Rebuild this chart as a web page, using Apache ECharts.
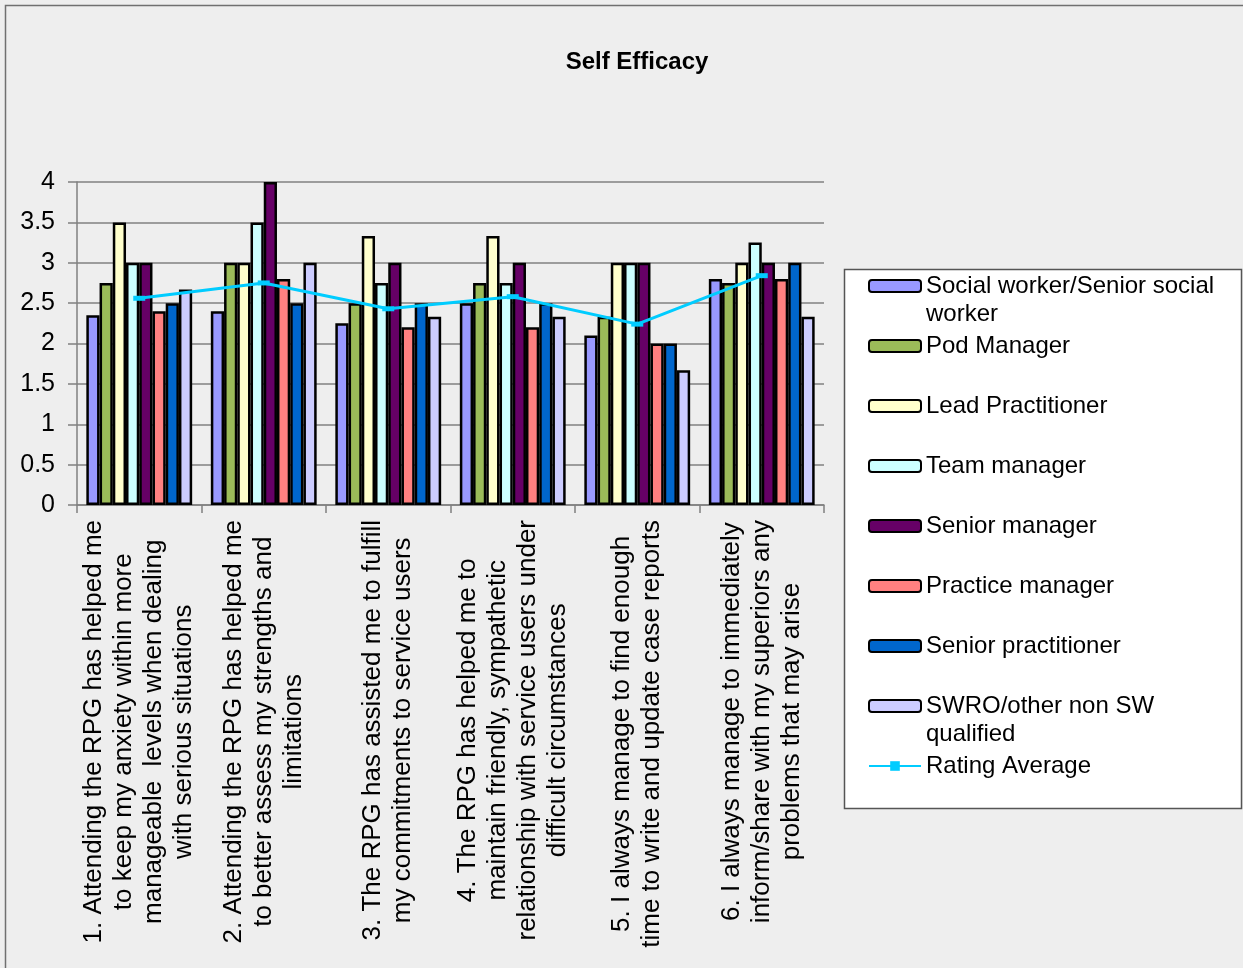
<!DOCTYPE html>
<html>
<head>
<meta charset="utf-8">
<script src="https://cdn.jsdelivr.net/npm/echarts@6.0.0/dist/echarts.min.js"></script>
<style>
  html, body { margin: 0; padding: 0; background: #eeeeee; }
  #chart { width: 1243px; height: 968px; }
</style>
</head>
<body>
<div id="chart"></div>
<script>
// ===== data =====
const categories = [
  '1. Attending the RPG has helped me\nto keep my anxiety within more\nmanageable  levels when dealing\nwith serious situations',
  '2. Attending the RPG has helped me\nto better assess my strengths and\nlimitations',
  '3. The RPG has assisted me to fulfill\nmy commitments to service users',
  '4. The RPG has helped me to\nmaintain friendly, sympathetic\nrelationship with service users under\ndifficult circumstances',
  '5. I always manage to find enough\ntime to write and update case reports',
  '6. I always manage to immediately\ninform/share with my superiors any\nproblems that may arise'
];

const seriesNames = [
  'Social worker/Senior social worker',
  'Pod Manager',
  'Lead Practitioner',
  'Team manager',
  'Senior manager',
  'Practice manager',
  'Senior practitioner',
  'SWRO/other non SW qualified',
  'Rating Average'
];

const socialWorker   = [2.35, 2.4, 2.25, 2.5, 2.1, 2.8];
const podManager     = [2.75, 3, 2.5, 2.75, 2.33, 2.75];
const leadPract      = [3.5, 3, 3.33, 3.33, 3, 3];
const teamManager    = [3, 3.5, 2.75, 2.75, 3, 3.25];
const seniorManager  = [3, 4, 3, 3, 3, 3];
const practiceMgr    = [2.4, 2.8, 2.2, 2.2, 2, 2.8];
const seniorPract    = [2.5, 2.5, 2.5, 2.5, 2, 3];
const swro           = [2.67, 3, 2.33, 2.33, 1.67, 2.33];
const ratingAverage  = [2.56, 2.75, 2.43, 2.58, 2.24, 2.84];

const yTicks = { min: 0, max: 4, interval: 0.5 };

const barColors = ['#9999ff', '#9bbb59', '#ffffcc', '#ccffff', '#660066', '#ff8080', '#0066cc', '#ccccff'];
const barData = [socialWorker, podManager, leadPract, teamManager, seniorManager, practiceMgr, seniorPract, swro];

const FONT = "'Liberation Sans', Arial, sans-serif";

const chart = echarts.init(document.getElementById('chart'));

// legend: one component per entry so the rows keep a fixed pitch
const legendCenters = [286, 346, 406, 466, 526, 586, 646, 706, 766];
const LH = 28;
const legends = seriesNames.map((name, i) => {
  const twoLine = name.length > 25;
  return {
    data: [name],
    orient: 'vertical',
    left: 868,
    top: legendCenters[i] - (twoLine ? LH * 1.5 : LH / 2),
    padding: 0,
    itemWidth: 52,
    itemHeight: 12,
    selectedMode: false,
    formatter: n => {
      if (n === 'Social worker/Senior social worker') return '\nSocial worker/Senior social\nworker';
      if (n === 'SWRO/other non SW qualified') return '\nSWRO/other non SW\nqualified';
      return n;
    },
    textStyle: { fontFamily: FONT, fontSize: 24, color: '#000', lineHeight: LH }
  };
});

const series = barData.map((d, i) => ({
  name: seriesNames[i],
  type: 'bar',
  data: d,
  barGap: '0%',
  barCategoryGap: '15%',
  itemStyle: { color: barColors[i], borderColor: '#000', borderWidth: 2.5 }
}));
series.push({
  name: seriesNames[8],
  type: 'line',
  data: ratingAverage,
  z: 5,
  symbol: 'rect',
  symbolSize: [12, 5],
  itemStyle: { color: '#00ccff' },
  lineStyle: { color: '#00ccff', width: 3 }
});

chart.setOption({
  backgroundColor: '#eeeeee',
  animation: false,
  title: {
    text: 'Self Efficacy',
    left: 632,
    top: 45,
    textAlign: 'center',
    textStyle: { fontFamily: FONT, fontSize: 24, fontWeight: 'bold', color: '#000' }
  },
  graphic: [
    {
      type: 'rect',
      shape: { x: 5.5, y: 5.5, width: 1260, height: 990 },
      style: { fill: 'none', stroke: '#707070', lineWidth: 1.5 },
      silent: true
    },
    {
      type: 'rect',
      shape: { x: 844.5, y: 269.5, width: 397, height: 539 },
      style: { fill: '#ffffff', stroke: '#555555', lineWidth: 1.5 },
      silent: true
    }
  ],
  legend: legends,
  grid: { left: 77, right: 419, top: 182, bottom: 463, containLabel: false },
  xAxis: {
    type: 'category',
    data: categories,
    axisLine: { lineStyle: { color: '#808080', width: 1.5 } },
    axisTick: { show: true, length: 8, lineStyle: { color: '#808080', width: 1.5 } },
    axisLabel: {
      interval: 0,
      rotate: 90,
      margin: 15,
      formatter: v => v.split('\n').map(l => '{c|' + l + '}').join('\n'),
      rich: {
        c: { align: 'center', fontFamily: FONT, fontSize: 26, lineHeight: 30, color: '#000' }
      }
    }
  },
  yAxis: {
    type: 'value',
    min: yTicks.min,
    max: yTicks.max,
    interval: yTicks.interval,
    axisLine: { show: true, lineStyle: { color: '#808080', width: 1.5 } },
    axisTick: { show: true, length: 9, lineStyle: { color: '#808080', width: 1.5 } },
    axisLabel: { margin: 22, fontFamily: FONT, fontSize: 25, color: '#000' },
    splitLine: { lineStyle: { color: '#808080', width: 1.5 } }
  },
  series: series
});
</script>
</body>
</html>
